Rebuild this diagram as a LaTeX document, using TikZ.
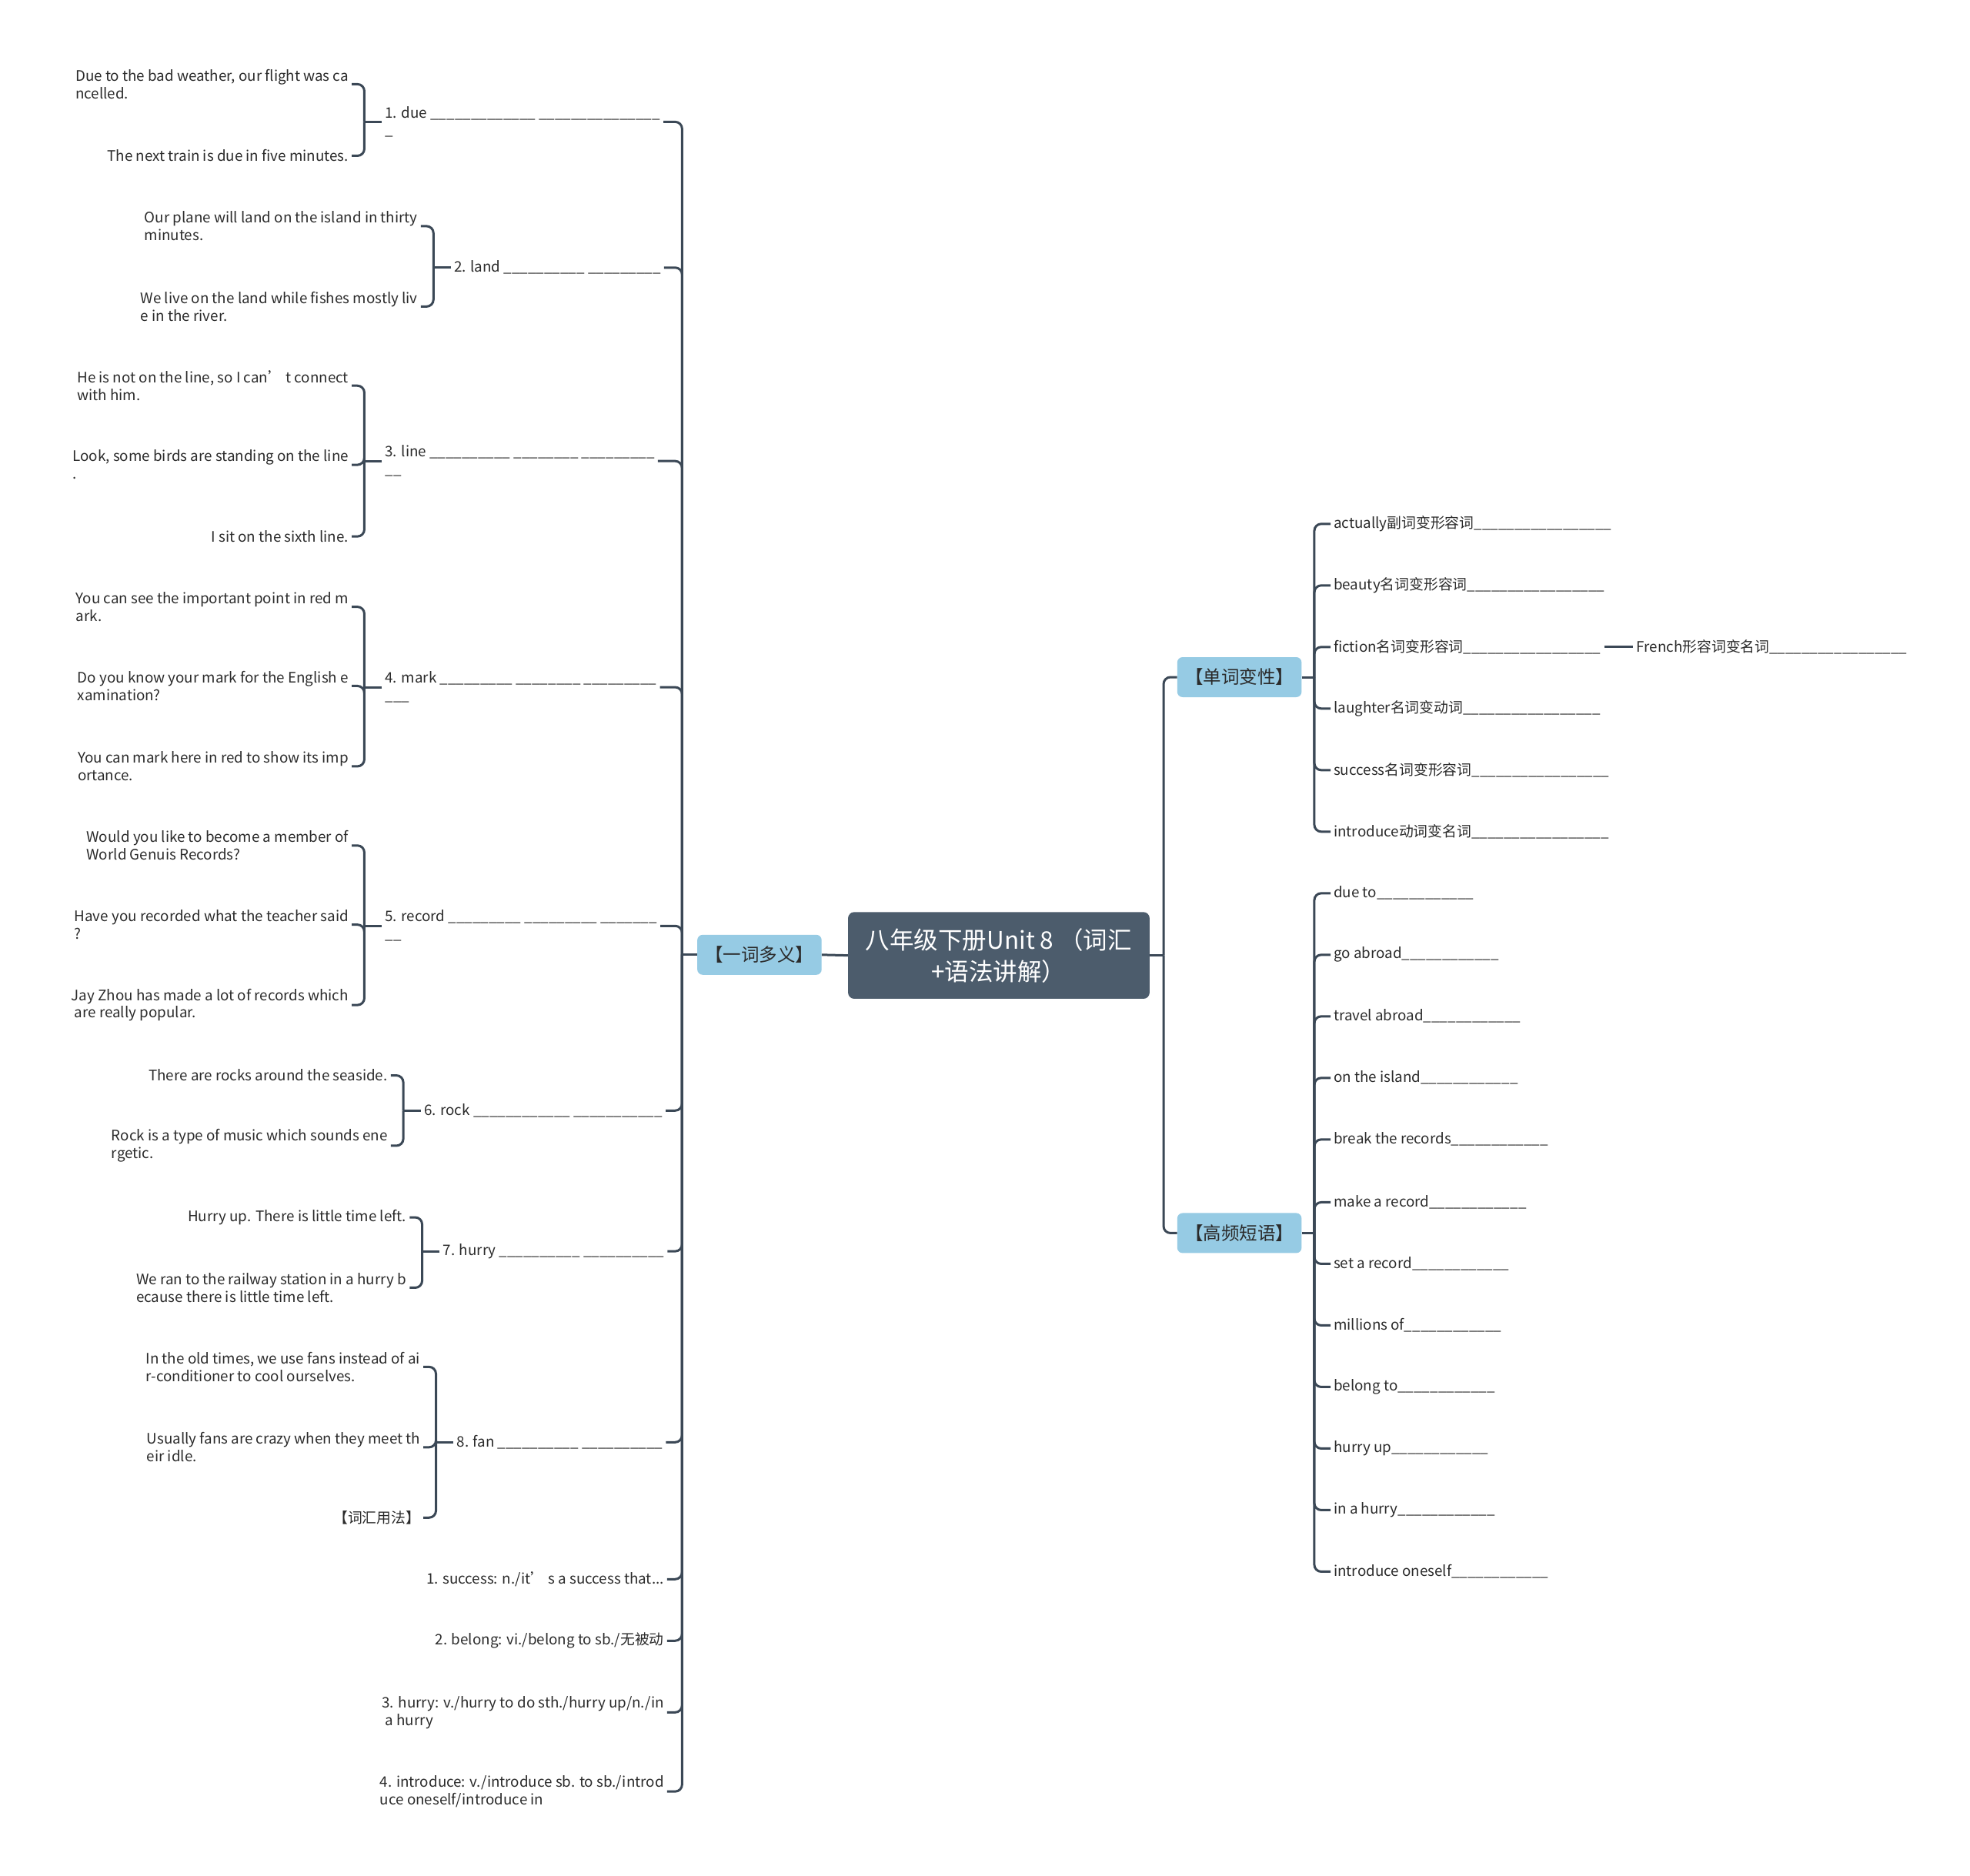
\documentclass[tikz,border=0pt]{standalone}
\usepackage{fontspec}
\setmainfont{Noto Sans CJK SC}
\usetikzlibrary{calc}
\definecolor{lc}{HTML}{3B4856}
\definecolor{rootc}{HTML}{4C5C6C}
\definecolor{catc}{HTML}{96CBE4}
\definecolor{tc}{HTML}{2B2B2B}
\ExplSyntaxOn
\box_new:N \l_usl_box
\NewDocumentCommand\usl{m}{
  \hbox_set:Nn \l_usl_box {\textunderscore}
  \prg_replicate:nn { \fp_eval:n { round( (#1) * 1.6327 / \dim_to_fp:n { \box_wd:N \l_usl_box } ) } } {\textunderscore}
}
\ExplSyntaxOff
\begin{document}
\begin{tikzpicture}[x=1.6327pt,y=-1.6327pt,
  conn/.style={draw=lc,line width=3pt,rounded corners=9pt},
  txt/.style={font=\fontsize{18.8}{22.9}\selectfont, text=tc, align=left, inner xsep=4pt, inner ysep=2pt},
  rootbox/.style={fill=rootc, text=white, rounded corners=8pt, minimum width=391.8pt, minimum height=112.7pt, align=center, font=\fontsize{31.5}{41}\selectfont, inner sep=0pt},
  catbox/.style={fill=catc, text=tc, rounded corners=7pt, minimum width=161.6pt, minimum height=52pt, font=\fontsize{23.5}{26}\selectfont, inner sep=0pt}
]
\useasboundingbox (0,0) rectangle (1568,1493);
\fill[white] (0,0) rectangle (1568,1493);

% root and categories
\node[rootbox] (root) at (795,760.5) {八年级下册Unit 8 （词汇\\+语法讲解）};
\node[catbox] (c1) at (604.5,760) {【一词多义】};
\node[catbox] (c2) at (986.5,539) {【单词变性】};
\node[catbox] (c3) at (986.5,981.5) {【高频短语】};

% left parents
\node[txt,anchor=west] (p1) at (304,97) {1. due \usl{84} \usl{95}\\\usl{5}};
\node[txt,anchor=west] (p2) at (359,213) {2. land \usl{64} \usl{60}};
\node[txt,anchor=west] (p3) at (304,367) {3. line \usl{63} \usl{54} \usl{60}\\\usl{14}};
\node[txt,anchor=west] (p4) at (304,547) {4. mark \usl{60} \usl{50} \usl{60}\\\usl{19}};
\node[txt,anchor=west] (p5) at (304,737) {5. record \usl{60} \usl{60} \usl{44}\\\usl{14}};
\node[txt,anchor=west] (p6) at (335,884) {6. rock \usl{76} \usl{74}};
\node[txt,anchor=west] (p7) at (350,996) {7. hurry \usl{65} \usl{65}};
\node[txt,anchor=west] (p8) at (361,1148) {8. fan \usl{65} \usl{65}};
\node[txt,anchor=east] (p9) at (531,1257) {1. success: n./it’ s a success that...};
\node[txt,anchor=east] (p10) at (531,1306) {2. belong: vi./belong to sb./无被动};
\node[txt,anchor=east] (p11) at (531,1363) {3. hurry: v./hurry to do sth./hurry up/n./in\\~a hurry};
\node[txt,anchor=east] (p12) at (531,1426) {4. introduce: v./introduce sb. to sb./introd\\uce oneself/introduce in};

% grandchildren
\node[txt,anchor=east] (g1a) at (280,67) {Due to the bad weather, our flight was ca\\ncelled.};
\node[txt,anchor=east] (g1b) at (280,124) {The next train is due in five minutes.};
\node[txt,anchor=east] (g2a) at (335,180) {Our plane will land on the island in thirty\\minutes.};
\node[txt,anchor=east] (g2b) at (335,244) {We live on the land while fishes mostly liv\\e in the river.};
\node[txt,anchor=east] (g3a) at (280,307) {He is not on the line, so I can’ t connect\\with him.};
\node[txt,anchor=east] (g3b) at (280,370) {Look, some birds are standing on the line\\.};
\node[txt,anchor=east] (g3c) at (280,427) {I sit on the sixth line.};
\node[txt,anchor=east] (g4a) at (280,483) {You can see the important point in red m\\ark.};
\node[txt,anchor=east] (g4b) at (280,546) {Do you know your mark for the English e\\xamination?};
\node[txt,anchor=east] (g4c) at (280,610) {You can mark here in red to show its imp\\ortance.};
\node[txt,anchor=east] (g5a) at (280,673) {Would you like to become a member of\\World Genuis Records?};
\node[txt,anchor=east] (g5b) at (280,736) {Have you recorded what the teacher said\\?};
\node[txt,anchor=east] (g5c) at (280,800) {Jay Zhou has made a lot of records which\\~are really popular.};
\node[txt,anchor=east] (g6a) at (311,856) {There are rocks around the seaside.};
\node[txt,anchor=east] (g6b) at (311,912) {Rock is a type of music which sounds ene\\rgetic.};
\node[txt,anchor=east] (g7a) at (326,969) {Hurry up. There is little time left.};
\node[txt,anchor=east] (g7b) at (326,1025) {We ran to the railway station in a hurry b\\ecause there is little time left.};
\node[txt,anchor=east] (g8a) at (337,1088) {In the old times, we use fans instead of ai\\r-conditioner to cool ourselves.};
\node[txt,anchor=east] (g8b) at (337,1152) {Usually fans are crazy when they meet th\\eir idle.};
\node[txt,anchor=east] (g8c) at (337,1208) {【词汇用法】};

% right: word forms
\node[txt,anchor=west] (r1) at (1059,417) {actually副词变形容词\usl{109}};
\node[txt,anchor=west] (r2) at (1059,466) {beauty名词变形容词\usl{109}};
\node[txt,anchor=west] (r3) at (1059,515) {fiction名词变形容词\usl{109}};
\node[txt,anchor=west] (r4) at (1059,564) {laughter名词变动词\usl{109}};
\node[txt,anchor=west] (r5) at (1059,613) {success名词变形容词\usl{109}};
\node[txt,anchor=west] (r6) at (1059,662) {introduce动词变名词\usl{109}};
\node[txt,anchor=west] (r3a) at (1300,515) {French形容词变名词\usl{109}};

% right: phrases
\node[txt,anchor=west] (s1) at (1059,711) {due to\usl{80}};
\node[txt,anchor=west] (s2) at (1059,760) {go abroad\usl{80}};
\node[txt,anchor=west] (s3) at (1059,809) {travel abroad\usl{80}};
\node[txt,anchor=west] (s4) at (1059,858) {on the island\usl{80}};
\node[txt,anchor=west] (s5) at (1059,907) {break the records\usl{80}};
\node[txt,anchor=west] (s6) at (1059,957) {make a record\usl{80}};
\node[txt,anchor=west] (s7) at (1059,1006) {set a record\usl{80}};
\node[txt,anchor=west] (s8) at (1059,1055) {millions of\usl{80}};
\node[txt,anchor=west] (s9) at (1059,1104) {belong to\usl{80}};
\node[txt,anchor=west] (s10) at (1059,1153) {hurry up\usl{80}};
\node[txt,anchor=west] (s11) at (1059,1202) {in a hurry\usl{80}};
\node[txt,anchor=west] (s12) at (1059,1251) {introduce oneself\usl{80}};

% connectors: root
\draw[conn] (root.west) -- (c1.east);
\draw[conn] (root.east) -- ++(11,0) coordinate (jr);
\draw[conn] (jr) |- (c2.west);
\draw[conn] (jr) |- (c3.west);

% left main bracket
\draw[conn] (c1.west) -- ++(-12,0) coordinate (j0);
\foreach \n in {p1,p2,p3,p4,p5,p6,p7,p8,p9,p10,p11,p12}
  \draw[conn] (j0) |- (\n.east);

% grandchildren brackets
\draw[conn] (p1.west) -- ++(-14,0) coordinate (b1);
\foreach \n in {g1a,g1b} \draw[conn] (b1) |- (\n.east);
\draw[conn] (p2.west) -- ++(-14,0) coordinate (b2);
\foreach \n in {g2a,g2b} \draw[conn] (b2) |- (\n.east);
\draw[conn] (p3.west) -- ++(-14,0) coordinate (b3);
\foreach \n in {g3a,g3b,g3c} \draw[conn] (b3) |- (\n.east);
\draw[conn] (p4.west) -- ++(-14,0) coordinate (b4);
\foreach \n in {g4a,g4b,g4c} \draw[conn] (b4) |- (\n.east);
\draw[conn] (p5.west) -- ++(-14,0) coordinate (b5);
\foreach \n in {g5a,g5b,g5c} \draw[conn] (b5) |- (\n.east);
\draw[conn] (p6.west) -- ++(-14,0) coordinate (b6);
\foreach \n in {g6a,g6b} \draw[conn] (b6) |- (\n.east);
\draw[conn] (p7.west) -- ++(-14,0) coordinate (b7);
\foreach \n in {g7a,g7b} \draw[conn] (b7) |- (\n.east);
\draw[conn] (p8.west) -- ++(-14,0) coordinate (b8);
\foreach \n in {g8a,g8b,g8c} \draw[conn] (b8) |- (\n.east);

% right brackets
\draw[conn] (c2.east) -- ++(10,0) coordinate (j2);
\foreach \n in {r1,r2,r3,r4,r5,r6} \draw[conn] (j2) |- (\n.west);
\draw[conn] (r3.east) -- (r3a.west);
\draw[conn] (c3.east) -- ++(10,0) coordinate (j3);
\foreach \n in {s1,s2,s3,s4,s5,s6,s7,s8,s9,s10,s11,s12} \draw[conn] (j3) |- (\n.west);
\end{tikzpicture}
\end{document}
